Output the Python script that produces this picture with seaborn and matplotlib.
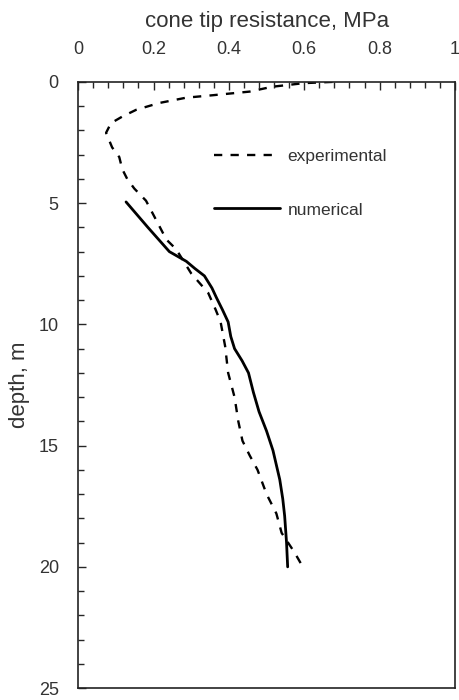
import matplotlib
matplotlib.use("Agg")
import matplotlib.pyplot as plt
from matplotlib.ticker import MultipleLocator
import seaborn as sns
import pandas as pd

# experimental CPT profile (dashed)
exp_depth = [0.0, 0.05, 0.2, 0.4, 0.55, 0.65, 0.87, 1.15, 1.43, 1.7, 2.1, 2.7, 3.1,
             3.6, 4.0, 4.4, 4.9, 5.7, 6.5, 6.9, 7.9, 8.7, 9.4, 9.9, 10.9, 12.0, 13.0,
             14.0, 14.8, 15.4, 16.0, 17.0, 17.8, 18.6, 19.4, 20.05]
exp_qc = [0.675, 0.60, 0.515, 0.455, 0.357, 0.287, 0.215, 0.154, 0.117, 0.087, 0.074,
          0.09, 0.109, 0.117, 0.13, 0.149, 0.18, 0.207, 0.234, 0.26, 0.30, 0.345,
          0.365, 0.378, 0.39, 0.398, 0.415, 0.425, 0.436, 0.455, 0.476, 0.50, 0.526,
          0.54, 0.574, 0.598]

# numerical prediction (solid)
num_depth = [4.95, 6.0, 7.0, 7.4, 7.7, 8.0, 8.5, 8.9, 9.4, 9.9, 10.5, 11.0, 11.5,
             12.0, 12.8, 13.6, 14.4, 15.2, 16.4, 17.2, 17.9, 19.0, 20.0]
num_qc = [0.127, 0.185, 0.242, 0.287, 0.31, 0.335, 0.355, 0.367, 0.383, 0.398,
          0.405, 0.415, 0.435, 0.452, 0.465, 0.48, 0.50, 0.517, 0.535, 0.543,
          0.548, 0.553, 0.556]

exp_df = pd.DataFrame({"depth": exp_depth, "qc": exp_qc})
num_df = pd.DataFrame({"depth": num_depth, "qc": num_qc})

sns.set_style("white")
plt.rcParams["font.family"] = ["Liberation Sans", "DejaVu Sans"]
txt = "#333333"

fig = plt.figure(figsize=(4.6, 7), dpi=100)
ax = fig.add_axes([0.170, 0.017, 0.819, 0.866])

sns.lineplot(data=exp_df, x="qc", y="depth", sort=False, estimator=None, ax=ax,
             color="black", lw=1.7, linestyle=(0, (3.5, 3.5)), label="experimental")
sns.lineplot(data=num_df, x="qc", y="depth", sort=False, estimator=None, ax=ax,
             color="black", lw=2.0, label="numerical")

ax.set_xlim(0, 1)
ax.set_ylim(25, 0)
ax.xaxis.set_label_position("top")
ax.xaxis.tick_top()
ax.xaxis.set_major_locator(MultipleLocator(0.2))
ax.xaxis.set_minor_locator(MultipleLocator(0.04))
ax.yaxis.set_major_locator(MultipleLocator(5))
ax.yaxis.set_minor_locator(MultipleLocator(1))
ax.set_xticks([0, 0.2, 0.4, 0.6, 0.8, 1])
ax.set_xticklabels(["0", "0.2", "0.4", "0.6", "0.8", "1"])
ax.tick_params(axis="x", which="both", direction="in", top=True, bottom=False,
               labelsize=13, labelcolor=txt, pad=17)
ax.tick_params(axis="y", which="both", direction="in", left=True, right=False,
               labelsize=13, labelcolor=txt, pad=14)
ax.tick_params(which="major", length=6, width=1)
ax.tick_params(which="minor", length=4, width=1)

ax.set_xlabel("cone tip resistance, MPa", fontsize=16, color=txt, labelpad=10)
ax.set_ylabel("depth, m", fontsize=16, color=txt, labelpad=6)

for s in ax.spines.values():
    s.set_color("#222222")
    s.set_linewidth(1.2)

leg = ax.legend(loc="upper left", bbox_to_anchor=(0.32, 0.915), frameon=False,
                fontsize=12.5, handlelength=3.8, labelspacing=2.2, handletextpad=0.4)
for t in leg.get_texts():
    t.set_color(txt)

fig.savefig("out.png", dpi=100)
